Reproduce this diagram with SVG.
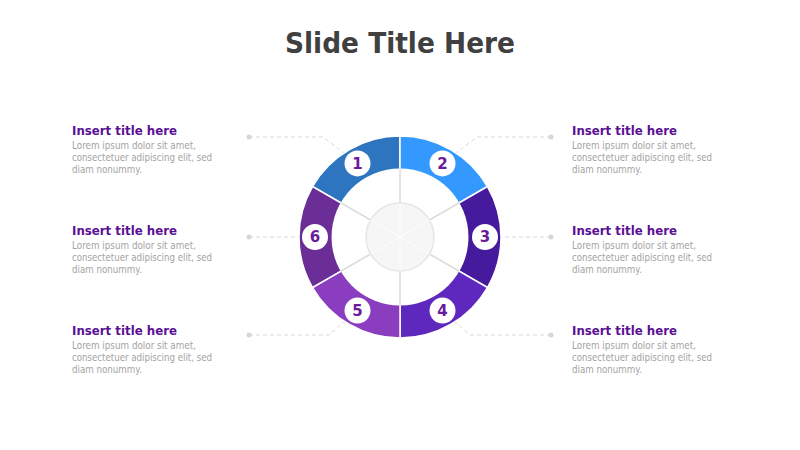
<svg xmlns="http://www.w3.org/2000/svg" width="800" height="450" viewBox="0 0 800 450">
<style>
.title{font-family:"DejaVu Sans","Liberation Sans",sans-serif;font-weight:bold;font-size:29px;fill:#404040}
.h{font-family:"DejaVu Sans","Liberation Sans",sans-serif;font-weight:bold;font-size:13px;fill:#5A0F96}
.b{font-family:"DejaVu Sans","Liberation Sans",sans-serif;font-size:10.6px;fill:#A3A3A3}
.num{font-family:"DejaVu Sans","Liberation Sans",sans-serif;font-weight:bold;font-size:15px;fill:#6A1B9A;text-anchor:middle}
.badge{fill:#FFFFFF}
.seg{stroke:#FFFFFF;stroke-width:1.5}
.conn{fill:none;stroke:#D9D9D9;stroke-width:1;stroke-dasharray:4 3}
.dot{fill:#D6D6D6}
.spoke{stroke:#DCDCDC;stroke-width:1.5}
</style>
<rect width="800" height="450" fill="#FFFFFF"/>
<text class="title" x="400" y="53" text-anchor="middle" textLength="230" lengthAdjust="spacingAndGlyphs">Slide Title Here</text>

<g id="connectors">
<path class="conn" d="M249,137 H323 L357.5,163.4"/>
<path class="conn" d="M551,137 H477 L442.5,163.4"/>
<path class="conn" d="M551,237 H485"/>
<path class="conn" d="M551,335 H470 L442.5,310.6"/>
<path class="conn" d="M249,335 H329 L357.5,310.6"/>
<path class="conn" d="M249,237 H315"/>
<circle class="dot" cx="249" cy="137" r="2.5"/>
<circle class="dot" cx="551" cy="137" r="2.5"/>
<circle class="dot" cx="551" cy="237" r="2.5"/>
<circle class="dot" cx="551" cy="335" r="2.5"/>
<circle class="dot" cx="249" cy="335" r="2.5"/>
<circle class="dot" cx="249" cy="237" r="2.5"/>
</g>

<g id="ring">
<path id="seg1" class="seg" fill="#2E75C0" d="M400,237 L312.53,186.5 A101,101 0 0 1 400,136 Z"/>
<path id="seg2" class="seg" fill="#3399FF" d="M400,237 L400,136 A101,101 0 0 1 487.47,186.5 Z"/>
<path id="seg3" class="seg" fill="#461A9C" d="M400,237 L487.47,186.5 A101,101 0 0 1 487.47,287.5 Z"/>
<path id="seg4" class="seg" fill="#5E28BF" d="M400,237 L487.47,287.5 A101,101 0 0 1 400,338 Z"/>
<path id="seg5" class="seg" fill="#8A3DBF" d="M400,237 L400,338 A101,101 0 0 1 312.53,287.5 Z"/>
<path id="seg6" class="seg" fill="#6B2D96" d="M400,237 L312.53,287.5 A101,101 0 0 1 312.53,186.5 Z"/>
<circle cx="400" cy="237" r="68.5" fill="#FFFFFF"/>
<line class="spoke" x1="400" y1="237" x2="340.68" y2="202.75"/>
<line class="spoke" x1="400" y1="237" x2="400" y2="168.5"/>
<line class="spoke" x1="400" y1="237" x2="459.32" y2="202.75"/>
<line class="spoke" x1="400" y1="237" x2="459.32" y2="271.25"/>
<line class="spoke" x1="400" y1="237" x2="400" y2="305.5"/>
<line class="spoke" x1="400" y1="237" x2="340.68" y2="271.25"/>
<circle cx="400" cy="237" r="34" fill="#F6F6F6" stroke="#E6E6E6" stroke-width="1.5"/>
<g stroke="#FFFFFF" stroke-width="1" opacity="0.8">
<line x1="400" y1="237" x2="370.6" y2="220"/>
<line x1="400" y1="237" x2="400" y2="203"/>
<line x1="400" y1="237" x2="429.4" y2="220"/>
<line x1="400" y1="237" x2="429.4" y2="254"/>
<line x1="400" y1="237" x2="400" y2="271"/>
<line x1="400" y1="237" x2="370.6" y2="254"/>
</g>
</g>

<g id="node1">
<circle class="badge" cx="357.5" cy="163.4" r="13"/>
<text class="num" x="357.5" y="168.8">1</text>
<text class="h" x="72" y="134.5" textLength="105" lengthAdjust="spacingAndGlyphs">Insert title here</text>
<text class="b" x="72" y="149" textLength="124" lengthAdjust="spacingAndGlyphs">Lorem ipsum dolor sit amet,</text>
<text class="b" x="72" y="161" textLength="140" lengthAdjust="spacingAndGlyphs">consectetuer adipiscing elit, sed</text>
<text class="b" x="72" y="173" textLength="70" lengthAdjust="spacingAndGlyphs">diam nonummy.</text>
</g>

<g id="node2">
<circle class="badge" cx="442.5" cy="163.4" r="13"/>
<text class="num" x="442.5" y="168.8">2</text>
<text class="h" x="572" y="134.5" textLength="105" lengthAdjust="spacingAndGlyphs">Insert title here</text>
<text class="b" x="572" y="149" textLength="124" lengthAdjust="spacingAndGlyphs">Lorem ipsum dolor sit amet,</text>
<text class="b" x="572" y="161" textLength="140" lengthAdjust="spacingAndGlyphs">consectetuer adipiscing elit, sed</text>
<text class="b" x="572" y="173" textLength="70" lengthAdjust="spacingAndGlyphs">diam nonummy.</text>
</g>

<g id="node3">
<circle class="badge" cx="485" cy="237" r="13"/>
<text class="num" x="485" y="242.4">3</text>
<text class="h" x="572" y="234.5" textLength="105" lengthAdjust="spacingAndGlyphs">Insert title here</text>
<text class="b" x="572" y="249" textLength="124" lengthAdjust="spacingAndGlyphs">Lorem ipsum dolor sit amet,</text>
<text class="b" x="572" y="261" textLength="140" lengthAdjust="spacingAndGlyphs">consectetuer adipiscing elit, sed</text>
<text class="b" x="572" y="273" textLength="70" lengthAdjust="spacingAndGlyphs">diam nonummy.</text>
</g>

<g id="node4">
<circle class="badge" cx="442.5" cy="310.6" r="13"/>
<text class="num" x="442.5" y="316">4</text>
<text class="h" x="572" y="334.5" textLength="105" lengthAdjust="spacingAndGlyphs">Insert title here</text>
<text class="b" x="572" y="349" textLength="124" lengthAdjust="spacingAndGlyphs">Lorem ipsum dolor sit amet,</text>
<text class="b" x="572" y="361" textLength="140" lengthAdjust="spacingAndGlyphs">consectetuer adipiscing elit, sed</text>
<text class="b" x="572" y="373" textLength="70" lengthAdjust="spacingAndGlyphs">diam nonummy.</text>
</g>

<g id="node5">
<circle class="badge" cx="357.5" cy="310.6" r="13"/>
<text class="num" x="357.5" y="316">5</text>
<text class="h" x="72" y="334.5" textLength="105" lengthAdjust="spacingAndGlyphs">Insert title here</text>
<text class="b" x="72" y="349" textLength="124" lengthAdjust="spacingAndGlyphs">Lorem ipsum dolor sit amet,</text>
<text class="b" x="72" y="361" textLength="140" lengthAdjust="spacingAndGlyphs">consectetuer adipiscing elit, sed</text>
<text class="b" x="72" y="373" textLength="70" lengthAdjust="spacingAndGlyphs">diam nonummy.</text>
</g>

<g id="node6">
<circle class="badge" cx="315" cy="237" r="13"/>
<text class="num" x="315" y="242.4">6</text>
<text class="h" x="72" y="234.5" textLength="105" lengthAdjust="spacingAndGlyphs">Insert title here</text>
<text class="b" x="72" y="249" textLength="124" lengthAdjust="spacingAndGlyphs">Lorem ipsum dolor sit amet,</text>
<text class="b" x="72" y="261" textLength="140" lengthAdjust="spacingAndGlyphs">consectetuer adipiscing elit, sed</text>
<text class="b" x="72" y="273" textLength="70" lengthAdjust="spacingAndGlyphs">diam nonummy.</text>
</g>
</svg>
